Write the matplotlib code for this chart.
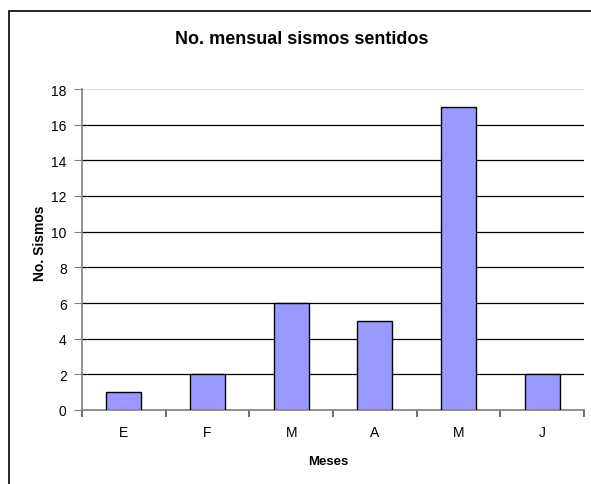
import matplotlib.pyplot as plt
from matplotlib.patches import Rectangle
import numpy as np

plt.rcParams['font.family'] = ['Liberation Sans', 'DejaVu Sans']

meses = ['E', 'F', 'M', 'A', 'M', 'J']
sismos = [1, 2, 6, 5, 17, 2]
y_ticks = [0, 2, 4, 6, 8, 10, 12, 14, 16, 18]

fig = plt.figure(figsize=(5.91, 4.85), dpi=100)
# outer chart frame (runs off the right and bottom edges)
fig.patches.append(Rectangle((9 / 591, -0.05), 1.0, 1.05 - 12 / 485,
                             transform=fig.transFigure, fill=False,
                             edgecolor='black', linewidth=1.2))

ax = fig.add_axes([82 / 591, 74 / 485, 502 / 591, 321 / 485])
x = np.arange(len(meses))
ax.bar(x, sismos, width=0.42, color='#9999FF', edgecolor='black',
       linewidth=1.0, zorder=3)

ax.set_xlim(-0.5, len(meses) - 0.5)
ax.set_ylim(0, 18)
ax.set_yticks(y_ticks)
ax.set_xticks(x)
ax.set_xticklabels(meses)
ax.set_xticks(np.arange(-0.5, len(meses)), minor=True)

ax.grid(axis='y', color='black', linewidth=0.9, zorder=0)
ax.get_ygridlines()[-1].set_color('#dddddd')

for s in ['top', 'right']:
    ax.spines[s].set_visible(False)
for s in ['left', 'bottom']:
    ax.spines[s].set_color('#808080')
    ax.spines[s].set_linewidth(1.2)

ax.tick_params(axis='y', direction='out', length=6, color='#808080',
               labelsize=10, pad=5)
ax.tick_params(axis='x', which='major', length=0, labelsize=10, pad=11)
ax.tick_params(axis='x', which='minor', direction='out', length=5,
               color='#555555', width=1.2)

fig.text(302 / 591, 1 - 39 / 485, 'No. mensual sismos sentidos',
         fontsize=13, fontweight='bold', ha='center', va='center')
ax.set_xlabel('Meses', fontsize=9.5, fontweight='bold')
ax.set_ylabel('No. Sismos', fontsize=10, fontweight='bold')
ax.xaxis.set_label_coords((328 - 82) / 502, -(462 - 411) / 321)
ax.yaxis.set_label_coords((40 - 82) / 502, (411 - 243) / 321)
ax.xaxis.label.set_va('center')
ax.yaxis.label.set_va('center')

fig.savefig('out.png', dpi=100)
